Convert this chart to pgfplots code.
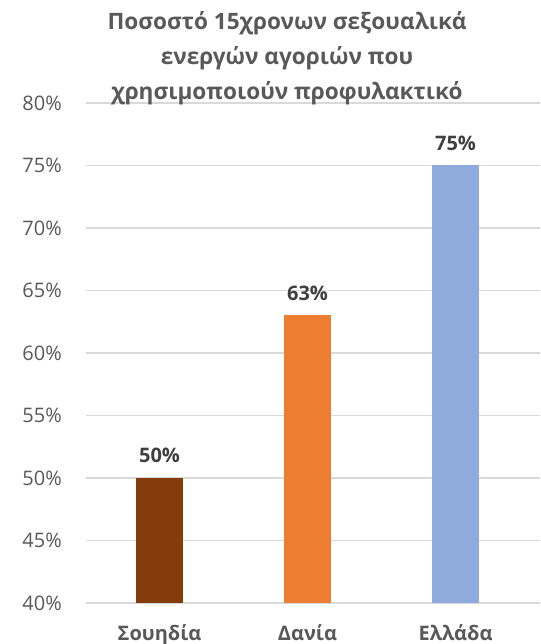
\documentclass[border=0pt]{standalone}
\usepackage{pgfplots}
\pgfplotsset{compat=1.18}
\usepackage{fontspec}
\setmainfont{Open Sans}
\definecolor{cbrown}{HTML}{843C0C}
\definecolor{corange}{HTML}{ED7D31}
\definecolor{cblue}{HTML}{8FAADC}
\definecolor{tgray}{HTML}{595959}
\definecolor{dgray}{HTML}{404040}
\definecolor{ggray}{HTML}{D9D9D9}
\begin{document}
\begin{tikzpicture}
\useasboundingbox (-86pt,-41pt) rectangle (454pt,603pt);
\begin{axis}[
  at={(0pt,0pt)}, anchor=south west,
  scale only axis,
  width=454pt, height=500pt,
  xmin=-0.497, xmax=2.571,
  ymin=40, ymax=80,
  ytick={40,45,50,55,60,65,70,75,80},
  yticklabels={40\%,45\%,50\%,55\%,60\%,65\%,70\%,75\%,80\%},
  xtick={0,1,2},
  xticklabels={Σουηδία,Δανία,Ελλάδα},
  /pgf/number format/assume math mode=true,
  ymajorgrids,
  grid style={ggray, line width=1.2pt},
  axis line style={draw=none},
  major tick length=0pt,
  tick style={draw=none},
  yticklabel style={font=\fontsize{20}{24}\selectfont, text=tgray, anchor=east, inner sep=0pt, xshift=-24pt},
  xticklabel style={font=\fontsize{20}{24}\selectfont\bfseries, text=tgray, anchor=base, inner sep=0pt, yshift=-37pt},
  ybar,
  bar width=47pt,
  bar shift=0pt,
  nodes near coords={\pgfmathprintnumber{\pgfplotspointmeta}\%},
  every node near coord/.style={font=\fontsize{20}{24}\selectfont\bfseries, text=dgray, anchor=base, inner sep=0pt, yshift=15pt},
  clip=false,
]
\addplot[fill=cbrown, draw=none] coordinates {(0,50)};
\addplot[fill=corange, draw=none] coordinates {(1,63)};
\addplot[fill=cblue, draw=none] coordinates {(2,75)};
\end{axis}
\begin{scope}[every node/.style={font=\fontsize{22.6}{27}\selectfont\bfseries, text=tgray, anchor=base, inner sep=0pt}]
\node at (201pt,573pt) {Ποσοστό 15χρονων σεξουαλικά};
\node at (201pt,538pt) {ενεργών αγοριών που};
\node at (201pt,503pt) {χρησιμοποιούν προφυλακτικό};
\end{scope}
\end{tikzpicture}
\end{document}
